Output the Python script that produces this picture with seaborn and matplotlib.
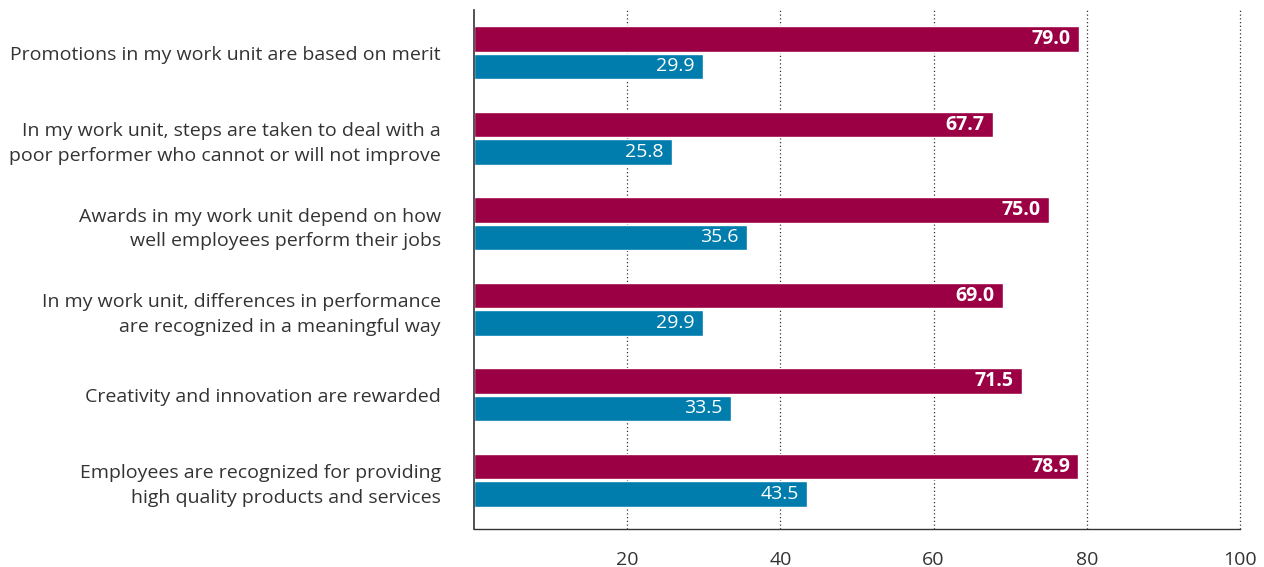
import matplotlib
matplotlib.use("Agg")
import matplotlib.pyplot as plt
import seaborn as sns
import pandas as pd

categories = [
    "Promotions in my work unit are based on merit",
    "In my work unit, steps are taken to deal with a\npoor performer who cannot or will not improve",
    "Awards in my work unit depend on how\nwell employees perform their jobs",
    "In my work unit, differences in performance\nare recognized in a meaningful way",
    "Creativity and innovation are rewarded",
    "Employees are recognized for providing\nhigh quality products and services",
]
series_names = ["Series A", "Series B"]
values_a = [79.0, 67.7, 75.0, 69.0, 71.5, 78.9]
values_b = [29.9, 25.8, 35.6, 29.9, 33.5, 43.5]
x_ticks = [20, 40, 60, 80, 100]

colors = ["#9C0044", "#007DAD"]

df = pd.DataFrame({
    "category": categories * 2,
    "series": [series_names[0]] * 6 + [series_names[1]] * 6,
    "value": values_a + values_b,
})

sns.set_theme(style="white")
plt.rcParams["font.family"] = ["Open Sans", "DejaVu Sans"]

fig = plt.figure(figsize=(12.64, 5.67), dpi=100)
ax = fig.add_axes([474 / 1264, 1 - 529 / 567, (1240 - 474) / 1264, (529 - 10) / 567])

sns.barplot(data=df, y="category", x="value", hue="series", order=categories,
            hue_order=series_names, palette=colors, orient="h",
            width=0.64, gap=0.06, legend=False, ax=ax, saturation=1)

for i, cont in enumerate(ax.containers):
    texts = ax.bar_label(cont, labels=[f"{v:.1f}" for v in cont.datavalues],
                         padding=-6, label_type="edge", color="white",
                         fontsize=14, fontweight="bold" if i == 0 else "normal")
    for t in texts:
        t.set_ha("right")

ax.set_xlim(0, 100)
ax.set_ylim(5.57, -0.5)
ax.set_xticks(x_ticks)
ax.set_xticklabels([str(t) for t in x_ticks])
ax.tick_params(axis="x", length=0, pad=16, labelsize=14, labelcolor="#333333")
ax.tick_params(axis="y", length=0, pad=24, labelsize=14, labelcolor="#333333")
ax.set_xlabel("")
ax.set_ylabel("")
for t in ax.get_yticklabels():
    t.set_ha("right")
    t.set_multialignment("right")
    t.set_linespacing(1.45)

for xv in x_ticks:
    ax.axvline(xv, color="#333333", linestyle=(0, (1, 2)), linewidth=0.9,
               zorder=0, clip_on=False)

for s in ["top", "right"]:
    ax.spines[s].set_visible(False)
ax.spines["left"].set_color("#333333")
ax.spines["bottom"].set_color("#333333")
ax.spines["left"].set_linewidth(1.2)
ax.spines["bottom"].set_linewidth(1.0)

fig.savefig("out.png", dpi=100)
